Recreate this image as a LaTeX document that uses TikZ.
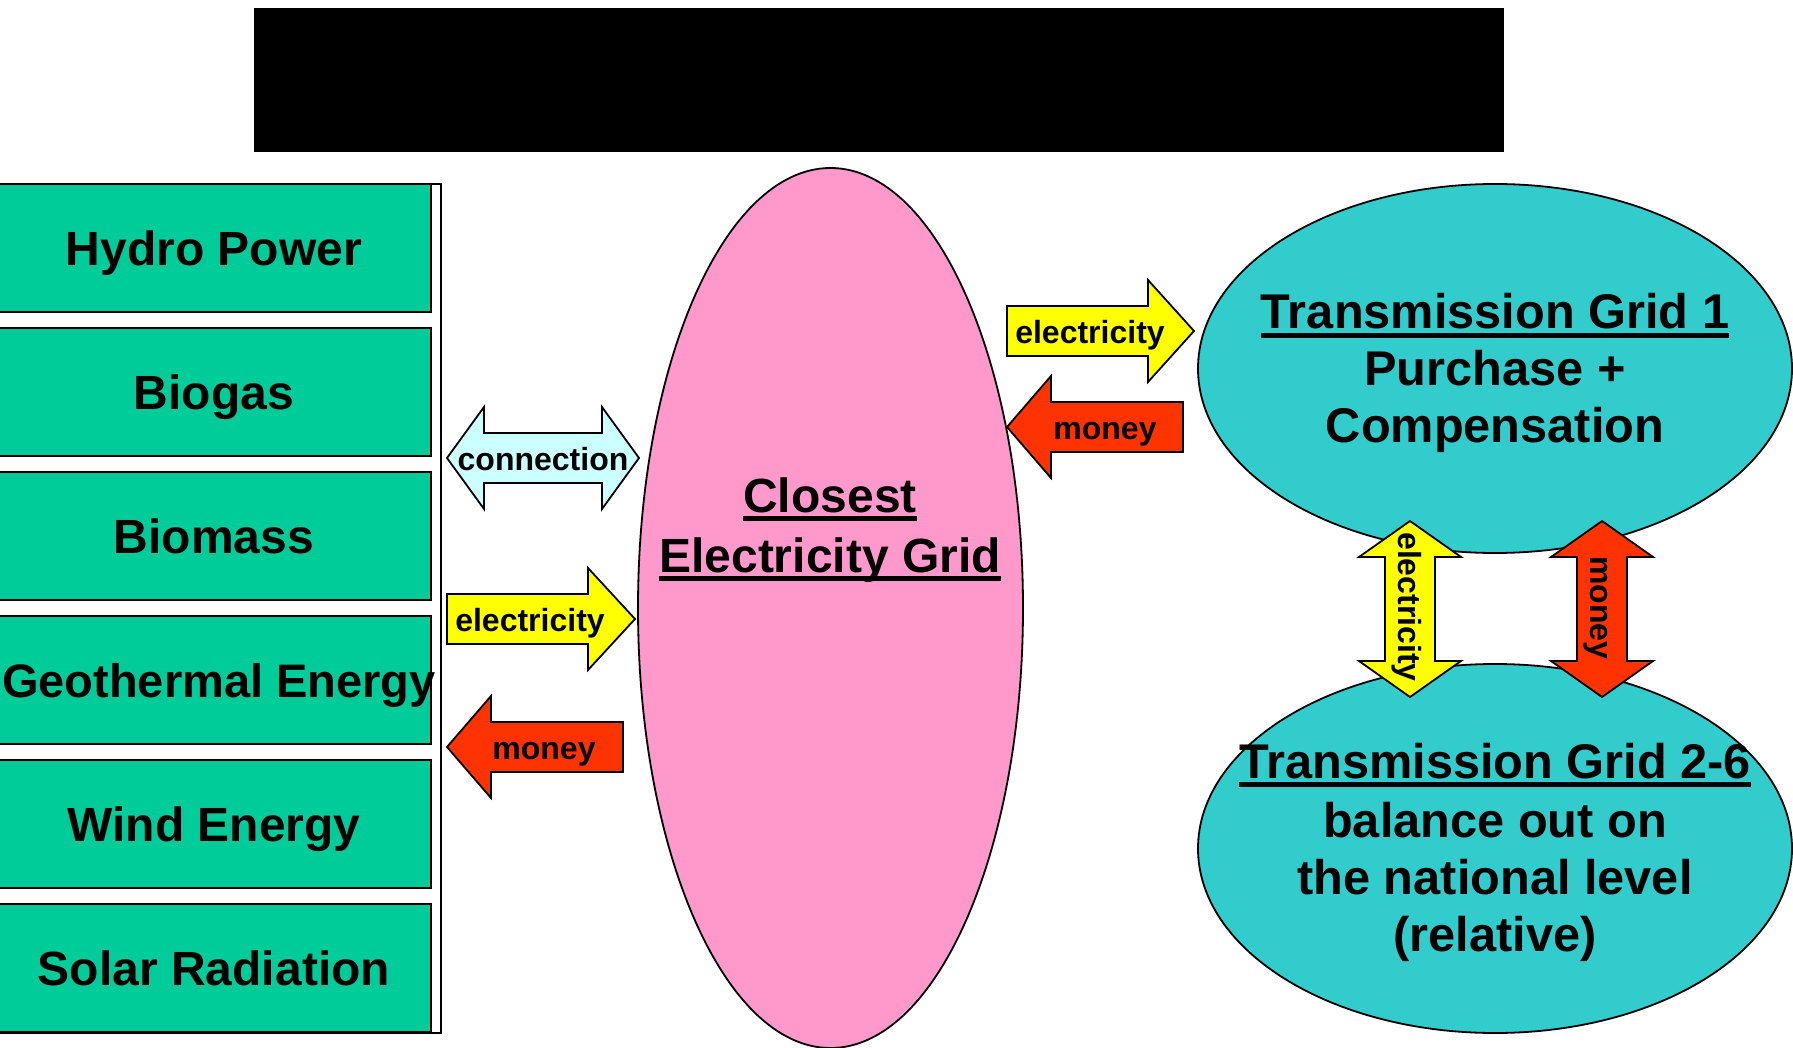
\documentclass[tikz,border=0pt]{standalone}
\usepackage{fontspec}
\setmainfont{Liberation Sans}
\usetikzlibrary{shapes.geometric}
\definecolor{boxgreen}{HTML}{00CC99}
\definecolor{gridpink}{HTML}{FF99CC}
\definecolor{gridteal}{HTML}{33CCCC}
\definecolor{elecyellow}{HTML}{FFFF00}
\definecolor{moneyred}{HTML}{FF3300}
\definecolor{conncyan}{HTML}{CCFFFF}
\newcommand\bigfnt{\fontsize{48}{56}\selectfont\bfseries}
\newcommand\geofnt{\fontsize{47}{56}\selectfont\bfseries}
\newcommand\tealfnt{\fontsize{48.7}{56}\selectfont\bfseries}
\newcommand\smallfnt{\fontsize{32}{38}\selectfont\bfseries}
\newsavebox\ulbox
\newcommand\ulin[1]{\sbox\ulbox{#1}\rlap{\rule[-0.18em]{\wd\ulbox}{0.09em}}\usebox\ulbox}
\begin{document}
\begin{tikzpicture}[x=1pt,y=-1pt,line join=miter,
  srcbox/.style={draw=black,line width=2pt,fill=boxgreen,minimum width=434pt,minimum height=128pt,inner sep=0pt,font=\bigfnt,text height=34.5pt,text depth=0pt},
  gridell/.style={ellipse,draw=black,line width=1.8pt,inner sep=0pt},
  bigtxt/.style={inner sep=0pt,anchor=base,font=\bigfnt},
  tealtxt/.style={inner sep=0pt,anchor=base,font=\tealfnt},
  arrowtxt/.style={inner sep=0pt,font=\smallfnt,text height=23pt,text depth=0pt},
  blockarrow/.style={draw=black,line width=1.8pt}]
\useasboundingbox (0,0) rectangle (1793,1048);
\fill[white] (0,0) rectangle (1793,1048);

% title bar
\node[fill=black,minimum width=1250pt,minimum height=144pt,inner sep=0pt] (title) at (879,80) {};

% left frame and source boxes
\node[draw=black,line width=2pt,fill=white,minimum width=446pt,minimum height=849pt,inner sep=0pt] (frame) at (218,608.5) {};
\node[srcbox] (hydro) at (214,248) {Hydro Power};
\node[srcbox] (biogas) at (214,392) {Biogas};
\node[srcbox] (biomass) at (214,536) {Biomass};
\node[srcbox] (geo) at (214,680) {};
\node[inner sep=0pt,font=\geofnt,text height=34pt,text depth=0pt] (geotxt) at (219,680) {Geothermal Energy};
\node[srcbox] (wind) at (214,824) {Wind Energy};
\node[srcbox] (solar) at (214,968) {Solar Radiation};

% closest grid
\node[gridell,fill=gridpink,minimum width=385pt,minimum height=880pt] (grid) at (830.5,608) {};
\node[bigtxt] (gridA) at (830,512) {\ulin{Closest}};
\node[bigtxt] (gridB) at (830,572) {\ulin{Electricity Grid}};

% transmission grids
\node[gridell,fill=gridteal,minimum width=594pt,minimum height=369pt] (tg1) at (1495,368.5) {};
\node[gridell,fill=gridteal,minimum width=594pt,minimum height=369pt] (tg2) at (1495,848.5) {};
\node[tealtxt] (tg1a) at (1495,329) {\ulin{Transmission Grid 1}};
\node[tealtxt] (tg1b) at (1495,385) {Purchase +};
\node[tealtxt] (tg1c) at (1495,442) {Compensation};
\node[tealtxt] (tg2a) at (1495,778) {\ulin{Transmission Grid 2-6}};
\node[tealtxt] (tg2b) at (1495,837) {balance out on};
\node[tealtxt] (tg2c) at (1495,894) {the national level};
\node[tealtxt] (tg2d) at (1495,951) {(relative)};

% left arrows
\draw[blockarrow,fill=conncyan] (447,458) -- (484,407) -- (484,433) -- (602,433) -- (602,407) -- (639,458) -- (602,509) -- (602,483) -- (484,483) -- (484,509) -- cycle;
\node[arrowtxt] (connlbl) at (543,459) {connection};
\draw[blockarrow,fill=elecyellow] (447,594) -- (588,594) -- (588,568) -- (635,619) -- (588,670) -- (588,644) -- (447,644) -- cycle;
\node[arrowtxt] (elec1lbl) at (530,620) {electricity};
\draw[blockarrow,fill=moneyred] (447,747) -- (491,696) -- (491,722) -- (623,722) -- (623,772) -- (491,772) -- (491,798) -- cycle;
\node[arrowtxt] (money1lbl) at (544,748) {money};

% right arrows
\draw[blockarrow,fill=elecyellow] (1007,306) -- (1148,306) -- (1148,280) -- (1194,331) -- (1148,382) -- (1148,356) -- (1007,356) -- cycle;
\node[arrowtxt] (elec2lbl) at (1090,332) {electricity};
\draw[blockarrow,fill=moneyred] (1007,427) -- (1051,376) -- (1051,402) -- (1183,402) -- (1183,452) -- (1051,452) -- (1051,478) -- cycle;
\node[arrowtxt] (money2lbl) at (1105,428) {money};

% vertical arrows
\draw[blockarrow,fill=elecyellow] (1410,521) -- (1461,557) -- (1435,557) -- (1435,661) -- (1461,661) -- (1410,697) -- (1359,661) -- (1385,661) -- (1385,557) -- (1359,557) -- cycle;
\node[arrowtxt,rotate=-90] (elec3lbl) at (1410,607) {electricity};
\draw[blockarrow,fill=moneyred] (1602,521) -- (1653,557) -- (1627,557) -- (1627,661) -- (1653,661) -- (1602,697) -- (1551,661) -- (1577,661) -- (1577,557) -- (1551,557) -- cycle;
\node[arrowtxt,rotate=-90] (money3lbl) at (1602,608) {money};
\end{tikzpicture}
\end{document}
